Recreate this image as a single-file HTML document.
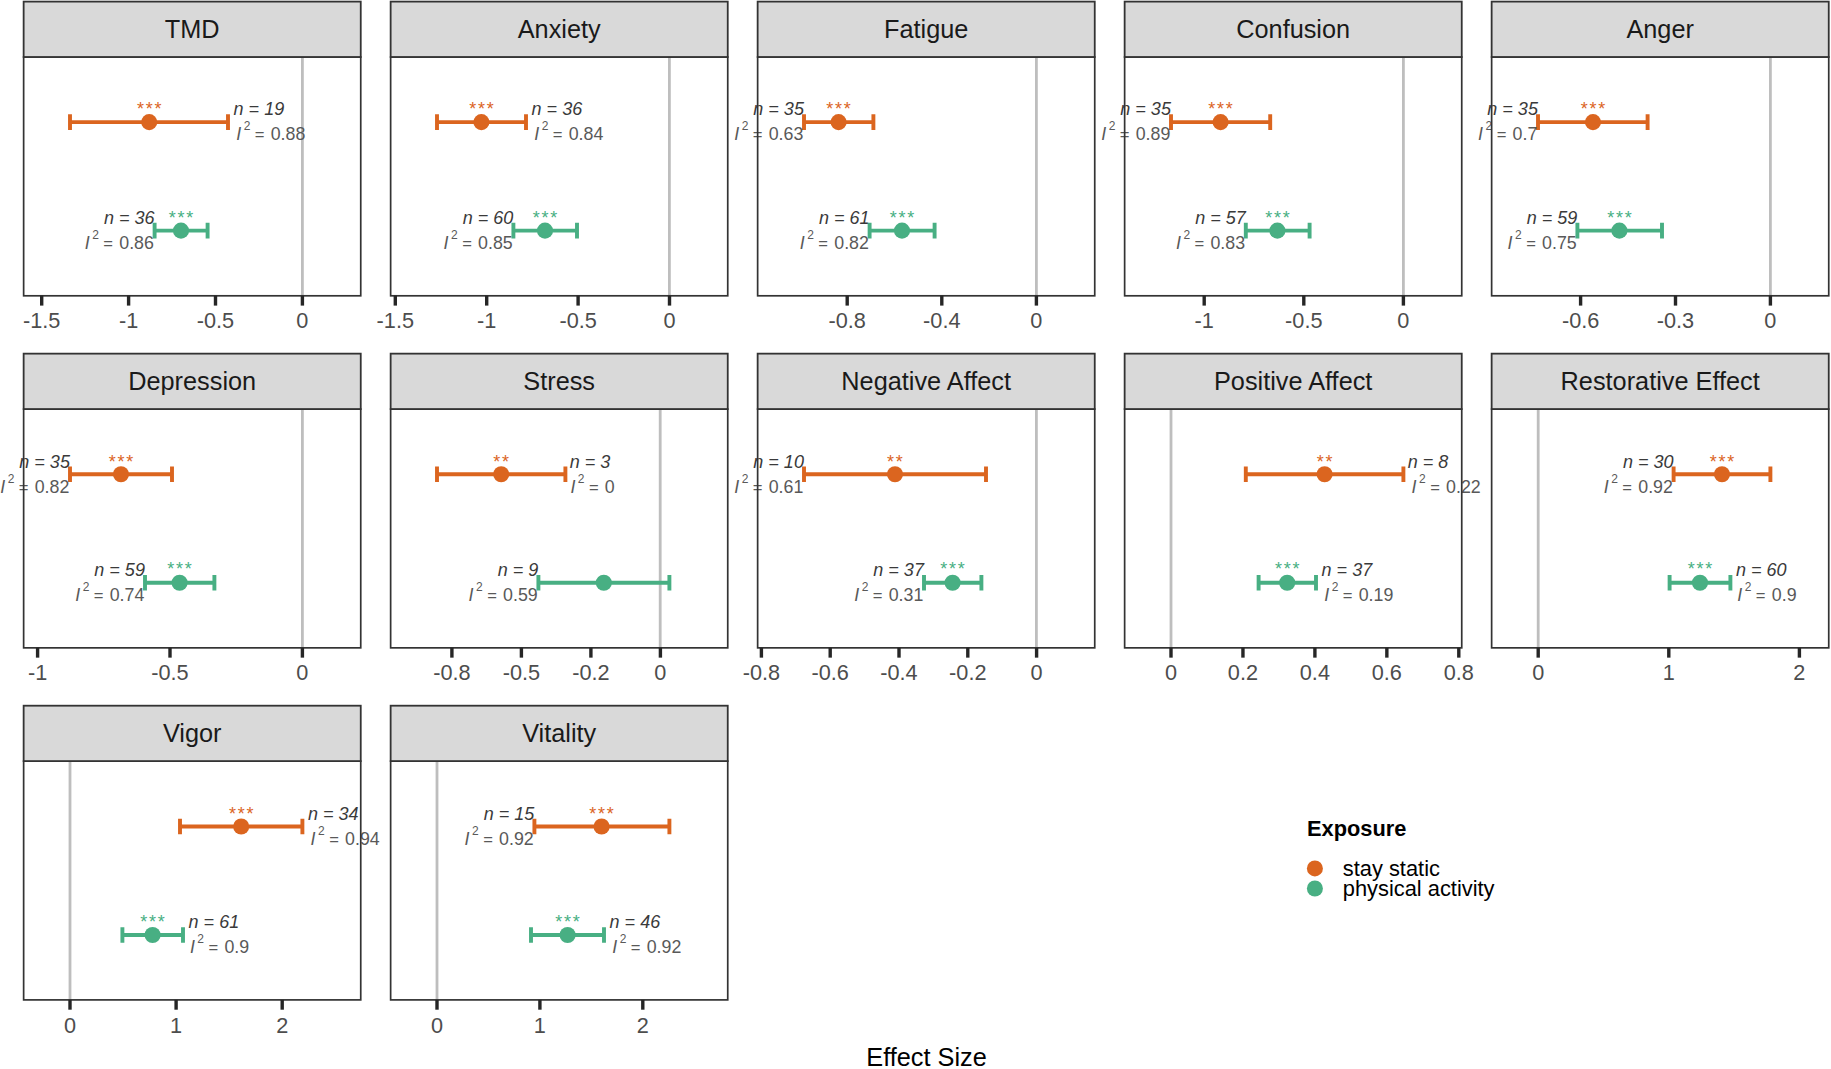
<!DOCTYPE html>
<html lang="en">
<head>
<meta charset="utf-8">
<title>Effect Size by Exposure</title>
<style>
html,body{margin:0;padding:0;background:#ffffff;}
body{width:1831px;height:1069px;overflow:hidden;font-family:"Liberation Sans",sans-serif;}
svg{display:block;}
</style>
</head>
<body>
<svg width="1831" height="1069" viewBox="0 0 1831 1069" font-family="'Liberation Sans', Arial, sans-serif">
<rect x="0" y="0" width="1831" height="1069" fill="#ffffff"/>
<g>
<line x1="302.40" x2="302.40" y1="57.00" y2="295.80" stroke="#BEBEBE" stroke-width="2.8"/>
<path d="M70.00 122.15H228.00M70.00 114.35V129.95M228.00 114.35V129.95" stroke="#DB651F" stroke-width="3.9" fill="none"/>
<circle cx="149.20" cy="122.15" r="8.05" fill="#DB651F"/>
<text x="150.07" y="114.55" text-anchor="middle" font-size="18" letter-spacing="1.74" fill="#DB651F">***</text>
<text x="233.61" y="114.80" text-anchor="start" font-size="18.0" font-style="italic" fill="#3A3A3A">n = 19</text>
<text x="236.20" y="139.50" text-anchor="start" font-size="17.8" fill="#595959"><tspan font-style="italic">I</tspan><tspan dx="2.5" dy="-9.6" font-size="12">2</tspan><tspan dy="9.6" dx="-0.2" font-size="16.6"> =</tspan><tspan dx="1.3"> 0.88</tspan></text>
<path d="M154.60 230.65H207.60M154.60 222.85V238.45M207.60 222.85V238.45" stroke="#48AF83" stroke-width="3.9" fill="none"/>
<circle cx="181.00" cy="230.65" r="8.05" fill="#48AF83"/>
<text x="181.87" y="223.65" text-anchor="middle" font-size="18" letter-spacing="1.74" fill="#48AF83">***</text>
<text x="154.50" y="224.10" text-anchor="end" font-size="18.0" font-style="italic" fill="#3A3A3A">n = 36</text>
<text x="153.90" y="248.70" text-anchor="end" font-size="17.8" fill="#595959"><tspan font-style="italic">I</tspan><tspan dx="2.5" dy="-9.6" font-size="12">2</tspan><tspan dy="9.6" dx="-0.2" font-size="16.6"> =</tspan><tspan dx="1.3"> 0.86</tspan></text>
<rect x="23.64" y="57.00" width="337.1" height="238.80" fill="none" stroke="#333333" stroke-width="1.7"/>
<rect x="23.64" y="1.60" width="337.1" height="55.40" fill="#D9D9D9" stroke="#333333" stroke-width="1.8"/>
<text x="192.19" y="38.30" text-anchor="middle" font-size="25.3" fill="#1A1A1A">TMD</text>
<line x1="41.70" x2="41.70" y1="295.80" y2="305.60" stroke="#262626" stroke-width="3.4"/>
<text x="41.70" y="328.40" text-anchor="middle" font-size="21.7" fill="#4D4D4D">-1.5</text>
<line x1="128.60" x2="128.60" y1="295.80" y2="305.60" stroke="#262626" stroke-width="3.4"/>
<text x="128.60" y="328.40" text-anchor="middle" font-size="21.7" fill="#4D4D4D">-1</text>
<line x1="215.50" x2="215.50" y1="295.80" y2="305.60" stroke="#262626" stroke-width="3.4"/>
<text x="215.50" y="328.40" text-anchor="middle" font-size="21.7" fill="#4D4D4D">-0.5</text>
<line x1="302.40" x2="302.40" y1="295.80" y2="305.60" stroke="#262626" stroke-width="3.4"/>
<text x="302.40" y="328.40" text-anchor="middle" font-size="21.7" fill="#4D4D4D">0</text>
</g>
<g>
<line x1="669.40" x2="669.40" y1="57.00" y2="295.80" stroke="#BEBEBE" stroke-width="2.8"/>
<path d="M437.00 122.15H526.00M437.00 114.35V129.95M526.00 114.35V129.95" stroke="#DB651F" stroke-width="3.9" fill="none"/>
<circle cx="481.40" cy="122.15" r="8.05" fill="#DB651F"/>
<text x="482.27" y="114.55" text-anchor="middle" font-size="18" letter-spacing="1.74" fill="#DB651F">***</text>
<text x="531.61" y="114.80" text-anchor="start" font-size="18.0" font-style="italic" fill="#3A3A3A">n = 36</text>
<text x="534.20" y="139.50" text-anchor="start" font-size="17.8" fill="#595959"><tspan font-style="italic">I</tspan><tspan dx="2.5" dy="-9.6" font-size="12">2</tspan><tspan dy="9.6" dx="-0.2" font-size="16.6"> =</tspan><tspan dx="1.3"> 0.84</tspan></text>
<path d="M513.40 230.65H577.00M513.40 222.85V238.45M577.00 222.85V238.45" stroke="#48AF83" stroke-width="3.9" fill="none"/>
<circle cx="545.00" cy="230.65" r="8.05" fill="#48AF83"/>
<text x="545.87" y="223.65" text-anchor="middle" font-size="18" letter-spacing="1.74" fill="#48AF83">***</text>
<text x="513.30" y="224.10" text-anchor="end" font-size="18.0" font-style="italic" fill="#3A3A3A">n = 60</text>
<text x="512.70" y="248.70" text-anchor="end" font-size="17.8" fill="#595959"><tspan font-style="italic">I</tspan><tspan dx="2.5" dy="-9.6" font-size="12">2</tspan><tspan dy="9.6" dx="-0.2" font-size="16.6"> =</tspan><tspan dx="1.3"> 0.85</tspan></text>
<rect x="390.64" y="57.00" width="337.1" height="238.80" fill="none" stroke="#333333" stroke-width="1.7"/>
<rect x="390.64" y="1.60" width="337.1" height="55.40" fill="#D9D9D9" stroke="#333333" stroke-width="1.8"/>
<text x="559.19" y="38.30" text-anchor="middle" font-size="25.3" fill="#1A1A1A">Anxiety</text>
<line x1="395.30" x2="395.30" y1="295.80" y2="305.60" stroke="#262626" stroke-width="3.4"/>
<text x="395.30" y="328.40" text-anchor="middle" font-size="21.7" fill="#4D4D4D">-1.5</text>
<line x1="486.70" x2="486.70" y1="295.80" y2="305.60" stroke="#262626" stroke-width="3.4"/>
<text x="486.70" y="328.40" text-anchor="middle" font-size="21.7" fill="#4D4D4D">-1</text>
<line x1="578.10" x2="578.10" y1="295.80" y2="305.60" stroke="#262626" stroke-width="3.4"/>
<text x="578.10" y="328.40" text-anchor="middle" font-size="21.7" fill="#4D4D4D">-0.5</text>
<line x1="669.50" x2="669.50" y1="295.80" y2="305.60" stroke="#262626" stroke-width="3.4"/>
<text x="669.50" y="328.40" text-anchor="middle" font-size="21.7" fill="#4D4D4D">0</text>
</g>
<g>
<line x1="1036.40" x2="1036.40" y1="57.00" y2="295.80" stroke="#BEBEBE" stroke-width="2.8"/>
<path d="M804.00 122.15H873.40M804.00 114.35V129.95M873.40 114.35V129.95" stroke="#DB651F" stroke-width="3.9" fill="none"/>
<circle cx="838.60" cy="122.15" r="8.05" fill="#DB651F"/>
<text x="839.47" y="114.55" text-anchor="middle" font-size="18" letter-spacing="1.74" fill="#DB651F">***</text>
<text x="803.90" y="114.80" text-anchor="end" font-size="18.0" font-style="italic" fill="#3A3A3A">n = 35</text>
<text x="803.30" y="139.50" text-anchor="end" font-size="17.8" fill="#595959"><tspan font-style="italic">I</tspan><tspan dx="2.5" dy="-9.6" font-size="12">2</tspan><tspan dy="9.6" dx="-0.2" font-size="16.6"> =</tspan><tspan dx="1.3"> 0.63</tspan></text>
<path d="M869.60 230.65H934.60M869.60 222.85V238.45M934.60 222.85V238.45" stroke="#48AF83" stroke-width="3.9" fill="none"/>
<circle cx="902.00" cy="230.65" r="8.05" fill="#48AF83"/>
<text x="902.87" y="223.65" text-anchor="middle" font-size="18" letter-spacing="1.74" fill="#48AF83">***</text>
<text x="869.50" y="224.10" text-anchor="end" font-size="18.0" font-style="italic" fill="#3A3A3A">n = 61</text>
<text x="868.90" y="248.70" text-anchor="end" font-size="17.8" fill="#595959"><tspan font-style="italic">I</tspan><tspan dx="2.5" dy="-9.6" font-size="12">2</tspan><tspan dy="9.6" dx="-0.2" font-size="16.6"> =</tspan><tspan dx="1.3"> 0.82</tspan></text>
<rect x="757.64" y="57.00" width="337.1" height="238.80" fill="none" stroke="#333333" stroke-width="1.7"/>
<rect x="757.64" y="1.60" width="337.1" height="55.40" fill="#D9D9D9" stroke="#333333" stroke-width="1.8"/>
<text x="926.19" y="38.30" text-anchor="middle" font-size="25.3" fill="#1A1A1A">Fatigue</text>
<line x1="847.20" x2="847.20" y1="295.80" y2="305.60" stroke="#262626" stroke-width="3.4"/>
<text x="847.20" y="328.40" text-anchor="middle" font-size="21.7" fill="#4D4D4D">-0.8</text>
<line x1="941.80" x2="941.80" y1="295.80" y2="305.60" stroke="#262626" stroke-width="3.4"/>
<text x="941.80" y="328.40" text-anchor="middle" font-size="21.7" fill="#4D4D4D">-0.4</text>
<line x1="1036.40" x2="1036.40" y1="295.80" y2="305.60" stroke="#262626" stroke-width="3.4"/>
<text x="1036.40" y="328.40" text-anchor="middle" font-size="21.7" fill="#4D4D4D">0</text>
</g>
<g>
<line x1="1403.40" x2="1403.40" y1="57.00" y2="295.80" stroke="#BEBEBE" stroke-width="2.8"/>
<path d="M1171.00 122.15H1270.20M1171.00 114.35V129.95M1270.20 114.35V129.95" stroke="#DB651F" stroke-width="3.9" fill="none"/>
<circle cx="1220.60" cy="122.15" r="8.05" fill="#DB651F"/>
<text x="1221.47" y="114.55" text-anchor="middle" font-size="18" letter-spacing="1.74" fill="#DB651F">***</text>
<text x="1170.90" y="114.80" text-anchor="end" font-size="18.0" font-style="italic" fill="#3A3A3A">n = 35</text>
<text x="1170.30" y="139.50" text-anchor="end" font-size="17.8" fill="#595959"><tspan font-style="italic">I</tspan><tspan dx="2.5" dy="-9.6" font-size="12">2</tspan><tspan dy="9.6" dx="-0.2" font-size="16.6"> =</tspan><tspan dx="1.3"> 0.89</tspan></text>
<path d="M1245.80 230.65H1309.60M1245.80 222.85V238.45M1309.60 222.85V238.45" stroke="#48AF83" stroke-width="3.9" fill="none"/>
<circle cx="1277.40" cy="230.65" r="8.05" fill="#48AF83"/>
<text x="1278.27" y="223.65" text-anchor="middle" font-size="18" letter-spacing="1.74" fill="#48AF83">***</text>
<text x="1245.70" y="224.10" text-anchor="end" font-size="18.0" font-style="italic" fill="#3A3A3A">n = 57</text>
<text x="1245.10" y="248.70" text-anchor="end" font-size="17.8" fill="#595959"><tspan font-style="italic">I</tspan><tspan dx="2.5" dy="-9.6" font-size="12">2</tspan><tspan dy="9.6" dx="-0.2" font-size="16.6"> =</tspan><tspan dx="1.3"> 0.83</tspan></text>
<rect x="1124.64" y="57.00" width="337.1" height="238.80" fill="none" stroke="#333333" stroke-width="1.7"/>
<rect x="1124.64" y="1.60" width="337.1" height="55.40" fill="#D9D9D9" stroke="#333333" stroke-width="1.8"/>
<text x="1293.19" y="38.30" text-anchor="middle" font-size="25.3" fill="#1A1A1A">Confusion</text>
<line x1="1204.20" x2="1204.20" y1="295.80" y2="305.60" stroke="#262626" stroke-width="3.4"/>
<text x="1204.20" y="328.40" text-anchor="middle" font-size="21.7" fill="#4D4D4D">-1</text>
<line x1="1303.80" x2="1303.80" y1="295.80" y2="305.60" stroke="#262626" stroke-width="3.4"/>
<text x="1303.80" y="328.40" text-anchor="middle" font-size="21.7" fill="#4D4D4D">-0.5</text>
<line x1="1403.40" x2="1403.40" y1="295.80" y2="305.60" stroke="#262626" stroke-width="3.4"/>
<text x="1403.40" y="328.40" text-anchor="middle" font-size="21.7" fill="#4D4D4D">0</text>
</g>
<g>
<line x1="1770.40" x2="1770.40" y1="57.00" y2="295.80" stroke="#BEBEBE" stroke-width="2.8"/>
<path d="M1538.00 122.15H1647.60M1538.00 114.35V129.95M1647.60 114.35V129.95" stroke="#DB651F" stroke-width="3.9" fill="none"/>
<circle cx="1593.00" cy="122.15" r="8.05" fill="#DB651F"/>
<text x="1593.87" y="114.55" text-anchor="middle" font-size="18" letter-spacing="1.74" fill="#DB651F">***</text>
<text x="1537.90" y="114.80" text-anchor="end" font-size="18.0" font-style="italic" fill="#3A3A3A">n = 35</text>
<text x="1537.30" y="139.50" text-anchor="end" font-size="17.8" fill="#595959"><tspan font-style="italic">I</tspan><tspan dx="2.5" dy="-9.6" font-size="12">2</tspan><tspan dy="9.6" dx="-0.2" font-size="16.6"> =</tspan><tspan dx="1.3"> 0.7</tspan></text>
<path d="M1577.40 230.65H1662.00M1577.40 222.85V238.45M1662.00 222.85V238.45" stroke="#48AF83" stroke-width="3.9" fill="none"/>
<circle cx="1619.40" cy="230.65" r="8.05" fill="#48AF83"/>
<text x="1620.27" y="223.65" text-anchor="middle" font-size="18" letter-spacing="1.74" fill="#48AF83">***</text>
<text x="1577.30" y="224.10" text-anchor="end" font-size="18.0" font-style="italic" fill="#3A3A3A">n = 59</text>
<text x="1576.70" y="248.70" text-anchor="end" font-size="17.8" fill="#595959"><tspan font-style="italic">I</tspan><tspan dx="2.5" dy="-9.6" font-size="12">2</tspan><tspan dy="9.6" dx="-0.2" font-size="16.6"> =</tspan><tspan dx="1.3"> 0.75</tspan></text>
<rect x="1491.64" y="57.00" width="337.1" height="238.80" fill="none" stroke="#333333" stroke-width="1.7"/>
<rect x="1491.64" y="1.60" width="337.1" height="55.40" fill="#D9D9D9" stroke="#333333" stroke-width="1.8"/>
<text x="1660.19" y="38.30" text-anchor="middle" font-size="25.3" fill="#1A1A1A">Anger</text>
<line x1="1580.60" x2="1580.60" y1="295.80" y2="305.60" stroke="#262626" stroke-width="3.4"/>
<text x="1580.60" y="328.40" text-anchor="middle" font-size="21.7" fill="#4D4D4D">-0.6</text>
<line x1="1675.50" x2="1675.50" y1="295.80" y2="305.60" stroke="#262626" stroke-width="3.4"/>
<text x="1675.50" y="328.40" text-anchor="middle" font-size="21.7" fill="#4D4D4D">-0.3</text>
<line x1="1770.40" x2="1770.40" y1="295.80" y2="305.60" stroke="#262626" stroke-width="3.4"/>
<text x="1770.40" y="328.40" text-anchor="middle" font-size="21.7" fill="#4D4D4D">0</text>
</g>
<g>
<line x1="302.40" x2="302.40" y1="409.05" y2="647.85" stroke="#BEBEBE" stroke-width="2.8"/>
<path d="M70.00 474.30H172.00M70.00 466.50V482.10M172.00 466.50V482.10" stroke="#DB651F" stroke-width="3.9" fill="none"/>
<circle cx="121.00" cy="474.30" r="8.05" fill="#DB651F"/>
<text x="121.87" y="467.70" text-anchor="middle" font-size="18" letter-spacing="1.74" fill="#DB651F">***</text>
<text x="69.90" y="467.80" text-anchor="end" font-size="18.0" font-style="italic" fill="#3A3A3A">n = 35</text>
<text x="69.30" y="492.50" text-anchor="end" font-size="17.8" fill="#595959"><tspan font-style="italic">I</tspan><tspan dx="2.5" dy="-9.6" font-size="12">2</tspan><tspan dy="9.6" dx="-0.2" font-size="16.6"> =</tspan><tspan dx="1.3"> 0.82</tspan></text>
<path d="M145.00 582.80H214.40M145.00 575.00V590.60M214.40 575.00V590.60" stroke="#48AF83" stroke-width="3.9" fill="none"/>
<circle cx="179.60" cy="582.80" r="8.05" fill="#48AF83"/>
<text x="180.47" y="575.40" text-anchor="middle" font-size="18" letter-spacing="1.74" fill="#48AF83">***</text>
<text x="144.90" y="576.10" text-anchor="end" font-size="18.0" font-style="italic" fill="#3A3A3A">n = 59</text>
<text x="144.30" y="600.80" text-anchor="end" font-size="17.8" fill="#595959"><tspan font-style="italic">I</tspan><tspan dx="2.5" dy="-9.6" font-size="12">2</tspan><tspan dy="9.6" dx="-0.2" font-size="16.6"> =</tspan><tspan dx="1.3"> 0.74</tspan></text>
<rect x="23.64" y="409.05" width="337.1" height="238.80" fill="none" stroke="#333333" stroke-width="1.7"/>
<rect x="23.64" y="353.65" width="337.1" height="55.40" fill="#D9D9D9" stroke="#333333" stroke-width="1.8"/>
<text x="192.19" y="390.35" text-anchor="middle" font-size="25.3" fill="#1A1A1A">Depression</text>
<line x1="37.60" x2="37.60" y1="647.85" y2="657.65" stroke="#262626" stroke-width="3.4"/>
<text x="37.60" y="680.45" text-anchor="middle" font-size="21.7" fill="#4D4D4D">-1</text>
<line x1="170.00" x2="170.00" y1="647.85" y2="657.65" stroke="#262626" stroke-width="3.4"/>
<text x="170.00" y="680.45" text-anchor="middle" font-size="21.7" fill="#4D4D4D">-0.5</text>
<line x1="302.40" x2="302.40" y1="647.85" y2="657.65" stroke="#262626" stroke-width="3.4"/>
<text x="302.40" y="680.45" text-anchor="middle" font-size="21.7" fill="#4D4D4D">0</text>
</g>
<g>
<line x1="660.20" x2="660.20" y1="409.05" y2="647.85" stroke="#BEBEBE" stroke-width="2.8"/>
<path d="M437.00 474.30H565.40M437.00 466.50V482.10M565.40 466.50V482.10" stroke="#DB651F" stroke-width="3.9" fill="none"/>
<circle cx="501.20" cy="474.30" r="8.05" fill="#DB651F"/>
<text x="502.07" y="467.70" text-anchor="middle" font-size="18" letter-spacing="1.74" fill="#DB651F">**</text>
<text x="569.76" y="467.80" text-anchor="start" font-size="18.0" font-style="italic" fill="#3A3A3A">n = 3</text>
<text x="570.38" y="492.50" text-anchor="start" font-size="17.8" fill="#595959"><tspan font-style="italic">I</tspan><tspan dx="2.5" dy="-9.6" font-size="12">2</tspan><tspan dy="9.6" dx="-0.2" font-size="16.6"> =</tspan><tspan dx="1.3"> 0</tspan></text>
<path d="M538.40 582.80H669.40M538.40 575.00V590.60M669.40 575.00V590.60" stroke="#48AF83" stroke-width="3.9" fill="none"/>
<circle cx="603.80" cy="582.80" r="8.05" fill="#48AF83"/>
<text x="538.30" y="576.10" text-anchor="end" font-size="18.0" font-style="italic" fill="#3A3A3A">n = 9</text>
<text x="537.70" y="600.80" text-anchor="end" font-size="17.8" fill="#595959"><tspan font-style="italic">I</tspan><tspan dx="2.5" dy="-9.6" font-size="12">2</tspan><tspan dy="9.6" dx="-0.2" font-size="16.6"> =</tspan><tspan dx="1.3"> 0.59</tspan></text>
<rect x="390.64" y="409.05" width="337.1" height="238.80" fill="none" stroke="#333333" stroke-width="1.7"/>
<rect x="390.64" y="353.65" width="337.1" height="55.40" fill="#D9D9D9" stroke="#333333" stroke-width="1.8"/>
<text x="559.19" y="390.35" text-anchor="middle" font-size="25.3" fill="#1A1A1A">Stress</text>
<line x1="451.90" x2="451.90" y1="647.85" y2="657.65" stroke="#262626" stroke-width="3.4"/>
<text x="451.90" y="680.45" text-anchor="middle" font-size="21.7" fill="#4D4D4D">-0.8</text>
<line x1="521.40" x2="521.40" y1="647.85" y2="657.65" stroke="#262626" stroke-width="3.4"/>
<text x="521.40" y="680.45" text-anchor="middle" font-size="21.7" fill="#4D4D4D">-0.5</text>
<line x1="590.90" x2="590.90" y1="647.85" y2="657.65" stroke="#262626" stroke-width="3.4"/>
<text x="590.90" y="680.45" text-anchor="middle" font-size="21.7" fill="#4D4D4D">-0.2</text>
<line x1="660.40" x2="660.40" y1="647.85" y2="657.65" stroke="#262626" stroke-width="3.4"/>
<text x="660.40" y="680.45" text-anchor="middle" font-size="21.7" fill="#4D4D4D">0</text>
</g>
<g>
<line x1="1036.40" x2="1036.40" y1="409.05" y2="647.85" stroke="#BEBEBE" stroke-width="2.8"/>
<path d="M804.00 474.30H986.00M804.00 466.50V482.10M986.00 466.50V482.10" stroke="#DB651F" stroke-width="3.9" fill="none"/>
<circle cx="895.00" cy="474.30" r="8.05" fill="#DB651F"/>
<text x="895.87" y="467.70" text-anchor="middle" font-size="18" letter-spacing="1.74" fill="#DB651F">**</text>
<text x="803.90" y="467.80" text-anchor="end" font-size="18.0" font-style="italic" fill="#3A3A3A">n = 10</text>
<text x="803.30" y="492.50" text-anchor="end" font-size="17.8" fill="#595959"><tspan font-style="italic">I</tspan><tspan dx="2.5" dy="-9.6" font-size="12">2</tspan><tspan dy="9.6" dx="-0.2" font-size="16.6"> =</tspan><tspan dx="1.3"> 0.61</tspan></text>
<path d="M924.00 582.80H981.40M924.00 575.00V590.60M981.40 575.00V590.60" stroke="#48AF83" stroke-width="3.9" fill="none"/>
<circle cx="952.60" cy="582.80" r="8.05" fill="#48AF83"/>
<text x="953.47" y="575.40" text-anchor="middle" font-size="18" letter-spacing="1.74" fill="#48AF83">***</text>
<text x="923.90" y="576.10" text-anchor="end" font-size="18.0" font-style="italic" fill="#3A3A3A">n = 37</text>
<text x="923.30" y="600.80" text-anchor="end" font-size="17.8" fill="#595959"><tspan font-style="italic">I</tspan><tspan dx="2.5" dy="-9.6" font-size="12">2</tspan><tspan dy="9.6" dx="-0.2" font-size="16.6"> =</tspan><tspan dx="1.3"> 0.31</tspan></text>
<rect x="757.64" y="409.05" width="337.1" height="238.80" fill="none" stroke="#333333" stroke-width="1.7"/>
<rect x="757.64" y="353.65" width="337.1" height="55.40" fill="#D9D9D9" stroke="#333333" stroke-width="1.8"/>
<text x="926.19" y="390.35" text-anchor="middle" font-size="25.3" fill="#1A1A1A">Negative Affect</text>
<line x1="761.40" x2="761.40" y1="647.85" y2="657.65" stroke="#262626" stroke-width="3.4"/>
<text x="761.40" y="680.45" text-anchor="middle" font-size="21.7" fill="#4D4D4D">-0.8</text>
<line x1="830.20" x2="830.20" y1="647.85" y2="657.65" stroke="#262626" stroke-width="3.4"/>
<text x="830.20" y="680.45" text-anchor="middle" font-size="21.7" fill="#4D4D4D">-0.6</text>
<line x1="899.00" x2="899.00" y1="647.85" y2="657.65" stroke="#262626" stroke-width="3.4"/>
<text x="899.00" y="680.45" text-anchor="middle" font-size="21.7" fill="#4D4D4D">-0.4</text>
<line x1="967.80" x2="967.80" y1="647.85" y2="657.65" stroke="#262626" stroke-width="3.4"/>
<text x="967.80" y="680.45" text-anchor="middle" font-size="21.7" fill="#4D4D4D">-0.2</text>
<line x1="1036.60" x2="1036.60" y1="647.85" y2="657.65" stroke="#262626" stroke-width="3.4"/>
<text x="1036.60" y="680.45" text-anchor="middle" font-size="21.7" fill="#4D4D4D">0</text>
</g>
<g>
<line x1="1171.00" x2="1171.00" y1="409.05" y2="647.85" stroke="#BEBEBE" stroke-width="2.8"/>
<path d="M1245.80 474.30H1403.40M1245.80 466.50V482.10M1403.40 466.50V482.10" stroke="#DB651F" stroke-width="3.9" fill="none"/>
<circle cx="1324.60" cy="474.30" r="8.05" fill="#DB651F"/>
<text x="1325.47" y="467.70" text-anchor="middle" font-size="18" letter-spacing="1.74" fill="#DB651F">**</text>
<text x="1407.76" y="467.80" text-anchor="start" font-size="18.0" font-style="italic" fill="#3A3A3A">n = 8</text>
<text x="1411.60" y="492.50" text-anchor="start" font-size="17.8" fill="#595959"><tspan font-style="italic">I</tspan><tspan dx="2.5" dy="-9.6" font-size="12">2</tspan><tspan dy="9.6" dx="-0.2" font-size="16.6"> =</tspan><tspan dx="1.3"> 0.22</tspan></text>
<path d="M1258.60 582.80H1316.00M1258.60 575.00V590.60M1316.00 575.00V590.60" stroke="#48AF83" stroke-width="3.9" fill="none"/>
<circle cx="1287.20" cy="582.80" r="8.05" fill="#48AF83"/>
<text x="1288.07" y="575.40" text-anchor="middle" font-size="18" letter-spacing="1.74" fill="#48AF83">***</text>
<text x="1321.61" y="576.10" text-anchor="start" font-size="18.0" font-style="italic" fill="#3A3A3A">n = 37</text>
<text x="1324.20" y="600.80" text-anchor="start" font-size="17.8" fill="#595959"><tspan font-style="italic">I</tspan><tspan dx="2.5" dy="-9.6" font-size="12">2</tspan><tspan dy="9.6" dx="-0.2" font-size="16.6"> =</tspan><tspan dx="1.3"> 0.19</tspan></text>
<rect x="1124.64" y="409.05" width="337.1" height="238.80" fill="none" stroke="#333333" stroke-width="1.7"/>
<rect x="1124.64" y="353.65" width="337.1" height="55.40" fill="#D9D9D9" stroke="#333333" stroke-width="1.8"/>
<text x="1293.19" y="390.35" text-anchor="middle" font-size="25.3" fill="#1A1A1A">Positive Affect</text>
<line x1="1171.00" x2="1171.00" y1="647.85" y2="657.65" stroke="#262626" stroke-width="3.4"/>
<text x="1171.00" y="680.45" text-anchor="middle" font-size="21.7" fill="#4D4D4D">0</text>
<line x1="1242.95" x2="1242.95" y1="647.85" y2="657.65" stroke="#262626" stroke-width="3.4"/>
<text x="1242.95" y="680.45" text-anchor="middle" font-size="21.7" fill="#4D4D4D">0.2</text>
<line x1="1314.90" x2="1314.90" y1="647.85" y2="657.65" stroke="#262626" stroke-width="3.4"/>
<text x="1314.90" y="680.45" text-anchor="middle" font-size="21.7" fill="#4D4D4D">0.4</text>
<line x1="1386.85" x2="1386.85" y1="647.85" y2="657.65" stroke="#262626" stroke-width="3.4"/>
<text x="1386.85" y="680.45" text-anchor="middle" font-size="21.7" fill="#4D4D4D">0.6</text>
<line x1="1458.80" x2="1458.80" y1="647.85" y2="657.65" stroke="#262626" stroke-width="3.4"/>
<text x="1458.80" y="680.45" text-anchor="middle" font-size="21.7" fill="#4D4D4D">0.8</text>
</g>
<g>
<line x1="1538.20" x2="1538.20" y1="409.05" y2="647.85" stroke="#BEBEBE" stroke-width="2.8"/>
<path d="M1673.60 474.30H1770.40M1673.60 466.50V482.10M1770.40 466.50V482.10" stroke="#DB651F" stroke-width="3.9" fill="none"/>
<circle cx="1722.00" cy="474.30" r="8.05" fill="#DB651F"/>
<text x="1722.87" y="467.70" text-anchor="middle" font-size="18" letter-spacing="1.74" fill="#DB651F">***</text>
<text x="1673.50" y="467.80" text-anchor="end" font-size="18.0" font-style="italic" fill="#3A3A3A">n = 30</text>
<text x="1672.90" y="492.50" text-anchor="end" font-size="17.8" fill="#595959"><tspan font-style="italic">I</tspan><tspan dx="2.5" dy="-9.6" font-size="12">2</tspan><tspan dy="9.6" dx="-0.2" font-size="16.6"> =</tspan><tspan dx="1.3"> 0.92</tspan></text>
<path d="M1669.60 582.80H1730.40M1669.60 575.00V590.60M1730.40 575.00V590.60" stroke="#48AF83" stroke-width="3.9" fill="none"/>
<circle cx="1700.00" cy="582.80" r="8.05" fill="#48AF83"/>
<text x="1700.87" y="575.40" text-anchor="middle" font-size="18" letter-spacing="1.74" fill="#48AF83">***</text>
<text x="1736.01" y="576.10" text-anchor="start" font-size="18.0" font-style="italic" fill="#3A3A3A">n = 60</text>
<text x="1737.31" y="600.80" text-anchor="start" font-size="17.8" fill="#595959"><tspan font-style="italic">I</tspan><tspan dx="2.5" dy="-9.6" font-size="12">2</tspan><tspan dy="9.6" dx="-0.2" font-size="16.6"> =</tspan><tspan dx="1.3"> 0.9</tspan></text>
<rect x="1491.64" y="409.05" width="337.1" height="238.80" fill="none" stroke="#333333" stroke-width="1.7"/>
<rect x="1491.64" y="353.65" width="337.1" height="55.40" fill="#D9D9D9" stroke="#333333" stroke-width="1.8"/>
<text x="1660.19" y="390.35" text-anchor="middle" font-size="25.3" fill="#1A1A1A">Restorative Effect</text>
<line x1="1538.20" x2="1538.20" y1="647.85" y2="657.65" stroke="#262626" stroke-width="3.4"/>
<text x="1538.20" y="680.45" text-anchor="middle" font-size="21.7" fill="#4D4D4D">0</text>
<line x1="1668.80" x2="1668.80" y1="647.85" y2="657.65" stroke="#262626" stroke-width="3.4"/>
<text x="1668.80" y="680.45" text-anchor="middle" font-size="21.7" fill="#4D4D4D">1</text>
<line x1="1799.40" x2="1799.40" y1="647.85" y2="657.65" stroke="#262626" stroke-width="3.4"/>
<text x="1799.40" y="680.45" text-anchor="middle" font-size="21.7" fill="#4D4D4D">2</text>
</g>
<g>
<line x1="70.00" x2="70.00" y1="761.10" y2="999.90" stroke="#BEBEBE" stroke-width="2.8"/>
<path d="M180.00 826.45H302.40M180.00 818.65V834.25M302.40 818.65V834.25" stroke="#DB651F" stroke-width="3.9" fill="none"/>
<circle cx="241.20" cy="826.45" r="8.05" fill="#DB651F"/>
<text x="242.07" y="819.75" text-anchor="middle" font-size="18" letter-spacing="1.74" fill="#DB651F">***</text>
<text x="308.01" y="819.70" text-anchor="start" font-size="18.0" font-style="italic" fill="#3A3A3A">n = 34</text>
<text x="310.60" y="844.70" text-anchor="start" font-size="17.8" fill="#595959"><tspan font-style="italic">I</tspan><tspan dx="2.5" dy="-9.6" font-size="12">2</tspan><tspan dy="9.6" dx="-0.2" font-size="16.6"> =</tspan><tspan dx="1.3"> 0.94</tspan></text>
<path d="M122.40 934.95H183.00M122.40 927.15V942.75M183.00 927.15V942.75" stroke="#48AF83" stroke-width="3.9" fill="none"/>
<circle cx="152.60" cy="934.95" r="8.05" fill="#48AF83"/>
<text x="153.47" y="927.75" text-anchor="middle" font-size="18" letter-spacing="1.74" fill="#48AF83">***</text>
<text x="188.61" y="928.10" text-anchor="start" font-size="18.0" font-style="italic" fill="#3A3A3A">n = 61</text>
<text x="189.91" y="952.70" text-anchor="start" font-size="17.8" fill="#595959"><tspan font-style="italic">I</tspan><tspan dx="2.5" dy="-9.6" font-size="12">2</tspan><tspan dy="9.6" dx="-0.2" font-size="16.6"> =</tspan><tspan dx="1.3"> 0.9</tspan></text>
<rect x="23.64" y="761.10" width="337.1" height="238.80" fill="none" stroke="#333333" stroke-width="1.7"/>
<rect x="23.64" y="705.70" width="337.1" height="55.40" fill="#D9D9D9" stroke="#333333" stroke-width="1.8"/>
<text x="192.19" y="742.40" text-anchor="middle" font-size="25.3" fill="#1A1A1A">Vigor</text>
<line x1="70.00" x2="70.00" y1="999.90" y2="1009.70" stroke="#262626" stroke-width="3.4"/>
<text x="70.00" y="1032.50" text-anchor="middle" font-size="21.7" fill="#4D4D4D">0</text>
<line x1="176.10" x2="176.10" y1="999.90" y2="1009.70" stroke="#262626" stroke-width="3.4"/>
<text x="176.10" y="1032.50" text-anchor="middle" font-size="21.7" fill="#4D4D4D">1</text>
<line x1="282.20" x2="282.20" y1="999.90" y2="1009.70" stroke="#262626" stroke-width="3.4"/>
<text x="282.20" y="1032.50" text-anchor="middle" font-size="21.7" fill="#4D4D4D">2</text>
</g>
<g>
<line x1="437.00" x2="437.00" y1="761.10" y2="999.90" stroke="#BEBEBE" stroke-width="2.8"/>
<path d="M534.40 826.45H669.40M534.40 818.65V834.25M669.40 818.65V834.25" stroke="#DB651F" stroke-width="3.9" fill="none"/>
<circle cx="601.60" cy="826.45" r="8.05" fill="#DB651F"/>
<text x="602.47" y="819.75" text-anchor="middle" font-size="18" letter-spacing="1.74" fill="#DB651F">***</text>
<text x="534.30" y="819.70" text-anchor="end" font-size="18.0" font-style="italic" fill="#3A3A3A">n = 15</text>
<text x="533.70" y="844.70" text-anchor="end" font-size="17.8" fill="#595959"><tspan font-style="italic">I</tspan><tspan dx="2.5" dy="-9.6" font-size="12">2</tspan><tspan dy="9.6" dx="-0.2" font-size="16.6"> =</tspan><tspan dx="1.3"> 0.92</tspan></text>
<path d="M531.00 934.95H604.00M531.00 927.15V942.75M604.00 927.15V942.75" stroke="#48AF83" stroke-width="3.9" fill="none"/>
<circle cx="567.60" cy="934.95" r="8.05" fill="#48AF83"/>
<text x="568.47" y="927.75" text-anchor="middle" font-size="18" letter-spacing="1.74" fill="#48AF83">***</text>
<text x="609.61" y="928.10" text-anchor="start" font-size="18.0" font-style="italic" fill="#3A3A3A">n = 46</text>
<text x="612.20" y="952.70" text-anchor="start" font-size="17.8" fill="#595959"><tspan font-style="italic">I</tspan><tspan dx="2.5" dy="-9.6" font-size="12">2</tspan><tspan dy="9.6" dx="-0.2" font-size="16.6"> =</tspan><tspan dx="1.3"> 0.92</tspan></text>
<rect x="390.64" y="761.10" width="337.1" height="238.80" fill="none" stroke="#333333" stroke-width="1.7"/>
<rect x="390.64" y="705.70" width="337.1" height="55.40" fill="#D9D9D9" stroke="#333333" stroke-width="1.8"/>
<text x="559.19" y="742.40" text-anchor="middle" font-size="25.3" fill="#1A1A1A">Vitality</text>
<line x1="437.00" x2="437.00" y1="999.90" y2="1009.70" stroke="#262626" stroke-width="3.4"/>
<text x="437.00" y="1032.50" text-anchor="middle" font-size="21.7" fill="#4D4D4D">0</text>
<line x1="539.90" x2="539.90" y1="999.90" y2="1009.70" stroke="#262626" stroke-width="3.4"/>
<text x="539.90" y="1032.50" text-anchor="middle" font-size="21.7" fill="#4D4D4D">1</text>
<line x1="642.80" x2="642.80" y1="999.90" y2="1009.70" stroke="#262626" stroke-width="3.4"/>
<text x="642.80" y="1032.50" text-anchor="middle" font-size="21.7" fill="#4D4D4D">2</text>
</g>
<text x="926.5" y="1066.4" text-anchor="middle" font-size="25.3" fill="#000000">Effect Size</text>
<text x="1307.0" y="836.4" font-size="21.8" font-weight="bold" fill="#000000">Exposure</text>
<circle cx="1314.9" cy="868.4" r="8" fill="#DB651F"/>
<circle cx="1314.9" cy="888.5" r="8" fill="#48AF83"/>
<text x="1342.8" y="875.6" font-size="21.85" fill="#000000">stay static</text>
<text x="1342.8" y="895.7" font-size="21.85" fill="#000000">physical activity</text>
</svg>
</body>
</html>
